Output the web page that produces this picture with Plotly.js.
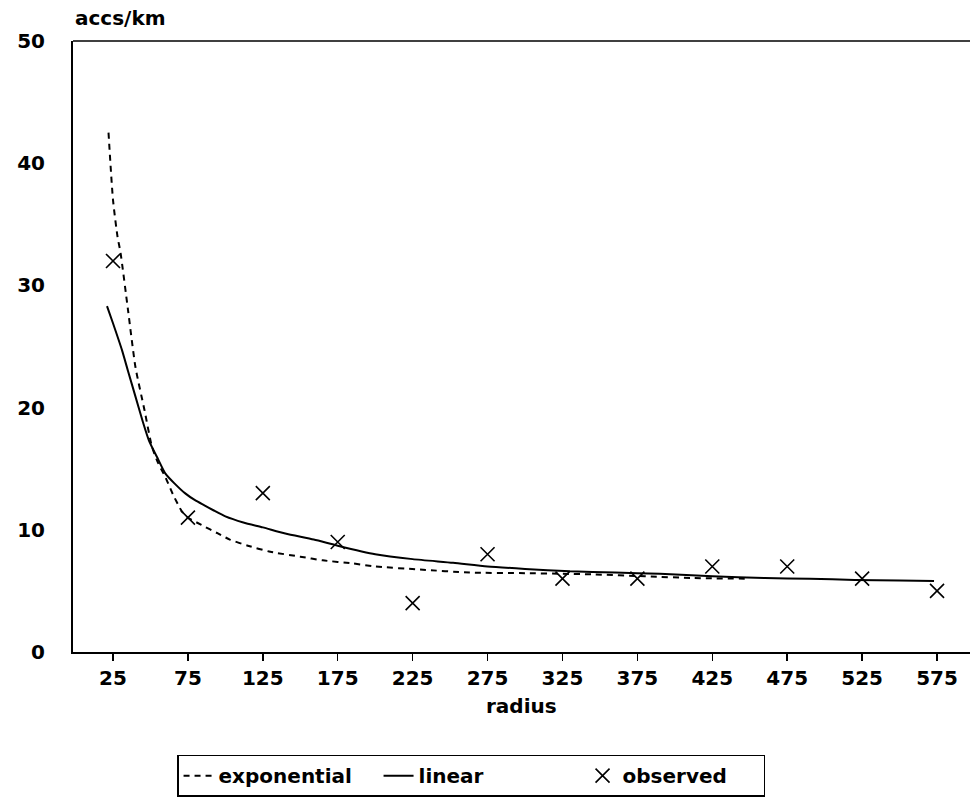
<!DOCTYPE html>
<html>
<head>
<meta charset="utf-8">
<script src="https://cdn.plot.ly/plotly-3.0.1.min.js"></script>
<style>html,body{margin:0;padding:0;background:#fff}#chart{width:970px;height:808px}</style>
</head>
<body>
<div id="chart"></div>
<script>
// observed data
const obsRadius = [25, 75, 125, 175, 225, 275, 325, 375, 425, 475, 525, 575];
const obsAccs   = [32, 11, 13, 9, 4, 8, 6, 6, 7, 7, 6, 5];

// exponential model curve
const expRadius = [22, 25, 28, 30, 35, 40, 46, 51, 55, 60, 65, 71, 75, 84, 95, 103, 115, 130, 150, 165, 185, 200, 230, 263, 300, 325, 345, 380, 412, 450];
const expAccs   = [42.5, 37.0, 34.0, 32.7, 28.0, 23.3, 19.8, 16.8, 15.5, 14.3, 12.9, 11.5, 11.0, 10.4, 9.7, 9.2, 8.7, 8.2, 7.8, 7.5, 7.25, 7.0, 6.75, 6.5, 6.45, 6.4, 6.35, 6.2, 6.05, 6.0];

// linear model curve
const linRadius = [21, 25, 31, 35, 40, 45, 49, 55, 60, 66, 73, 80, 86, 92, 100, 112, 125, 140, 159, 175, 200, 225, 252, 275, 300, 330, 360, 390, 425, 460, 490, 520, 550, 573];
const linAccs   = [28.3, 26.9, 24.7, 23.0, 20.9, 18.8, 17.3, 15.8, 14.6, 13.8, 13.0, 12.4, 12.0, 11.6, 11.1, 10.6, 10.2, 9.7, 9.2, 8.7, 8.0, 7.6, 7.3, 7.0, 6.8, 6.6, 6.5, 6.4, 6.2, 6.05, 6.0, 5.9, 5.85, 5.8];

const xTicks = [25, 75, 125, 175, 225, 275, 325, 375, 425, 475, 525, 575];
const yTicks = [0, 10, 20, 30, 40, 50];

const font = {family: 'DejaVu Sans, Liberation Sans, Arial, sans-serif', size: 20, color: '#000', weight: 'bold'};

const traces = [
  {x: expRadius, y: expAccs, name: 'exponential', mode: 'lines', type: 'scatter', legendwidth: 155,
   line: {color: '#000', width: 2, dash: '6px,5px', shape: 'spline', smoothing: 0.6}},
  {x: linRadius, y: linAccs, name: 'linear', mode: 'lines', type: 'scatter', legendwidth: 159,
   line: {color: '#000', width: 2, shape: 'spline', smoothing: 0.6}},
  {x: obsRadius, y: obsAccs, name: 'observed', mode: 'markers', type: 'scatter', legendwidth: 136,
   marker: {symbol: 'x-thin', size: 14, color: '#000', line: {color: '#000', width: 1.6}}}
];

const layout = {
  width: 970, height: 808,
  margin: {l: 73, r: 0, t: 41, b: 156},
  paper_bgcolor: '#fff', plot_bgcolor: '#fff',
  font: font,
  showlegend: true,
  legend: {
    orientation: 'h', x: 0.116, y: -0.168, xanchor: 'left', yanchor: 'top',
    bordercolor: '#000', borderwidth: 1.5, font: font, traceorder: 'normal'
  },
  xaxis: {
    range: [-1.7, 597], tickvals: xTicks, ticktext: xTicks.map(String),
    showgrid: false, zeroline: false, showline: true, linecolor: '#000', linewidth: 2,
    mirror: false, ticks: 'outside', ticklen: 7, tickwidth: 1.5, tickcolor: '#000',
    tickfont: font, fixedrange: true
  },
  yaxis: {
    range: [0, 50], tickvals: yTicks, ticktext: yTicks.map(String),
    showgrid: false, zeroline: false, showline: true, linecolor: '#000', linewidth: 2,
    mirror: false, ticks: '', tickfont: font, ticklabelstandoff: 22, fixedrange: true
  },
  shapes: [
    {type: 'line', xref: 'paper', yref: 'paper', x0: 0, x1: 1, y0: 1, y1: 1,
     line: {color: '#000', width: 1.5}}
  ],
  annotations: [
    {text: 'accs/km', xref: 'paper', yref: 'paper', x: 0, y: 1, xanchor: 'left', yanchor: 'bottom',
     yshift: 9, showarrow: false, font: font},
    {text: 'radius', xref: 'paper', yref: 'paper', x: 0.5, y: 0, xanchor: 'center', yanchor: 'top',
     yshift: -40, showarrow: false, font: font}
  ]
};

Plotly.newPlot('chart', traces, layout, {staticPlot: true, displayModeBar: false});
</script>
</body>
</html>
